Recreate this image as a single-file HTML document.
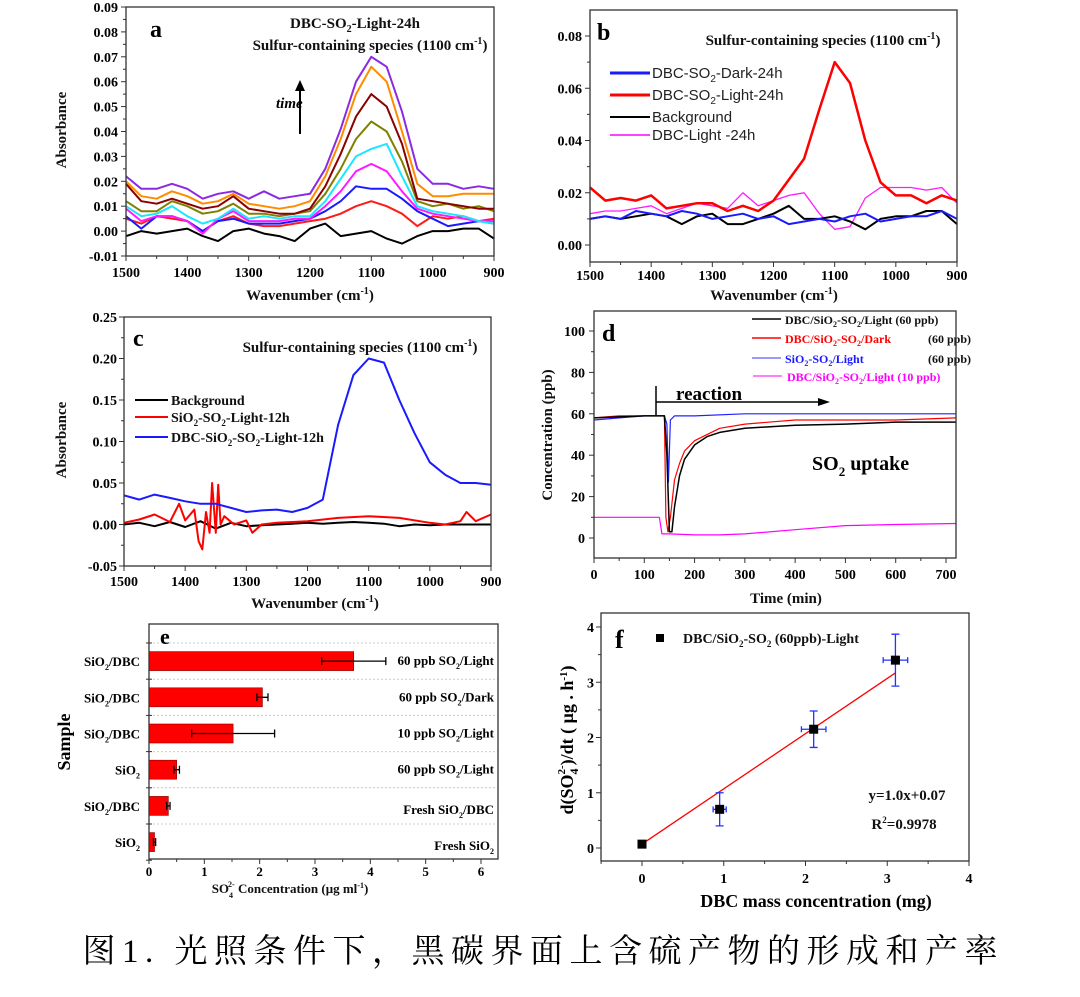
<!DOCTYPE html>
<html><head><meta charset="utf-8">
<style>
html,body{margin:0;padding:0;background:#fff;}
svg{display:block;font-family:"Liberation Serif","Noto Serif CJK SC",serif;}
.t{font-weight:bold;font-size:14px;fill:#111;}
.tt{font-weight:bold;font-size:15px;fill:#111;}
.lg{font-size:15px;fill:#222;font-family:"Liberation Sans",sans-serif;}
</style></head>
<body>
<svg id="fig" width="1080" height="997" viewBox="0 0 1080 997" xmlns="http://www.w3.org/2000/svg">
<rect width="1080" height="997" fill="#fff"/>
<g>
<text x="150" y="37" font-size="24" font-weight="bold">a</text>
<text class="tt" x="355" y="28" text-anchor="middle">DBC-SO<tspan font-size="10" dy="4">2</tspan><tspan dy="-4">-Light-24h</tspan></text>
<text class="tt" x="370" y="50" text-anchor="middle">Sulfur-containing species (1100 cm<tspan font-size="10" dy="-6">-1</tspan><tspan dy="6">)</tspan></text>
<text x="276" y="108" font-size="15" font-style="italic" font-weight="bold">time</text>
<line x1="300" y1="134" x2="300" y2="88" stroke="#000" stroke-width="2"/>
<polygon points="300,80 295,91 305,91" fill="#000"/>
<text class="tt" transform="translate(66,130) rotate(-90)" text-anchor="middle">Absorbance</text>
<text class="tt" x="310" y="300" text-anchor="middle">Wavenumber (cm<tspan font-size="10" dy="-6">-1</tspan><tspan dy="6">)</tspan></text>
</g>
<g>
<text x="597" y="40" font-size="24" font-weight="bold">b</text>
<text class="tt" x="823" y="45" text-anchor="middle">Sulfur-containing species (1100 cm<tspan font-size="10" dy="-6">-1</tspan><tspan dy="6">)</tspan></text>
<line x1="610" y1="73" x2="650" y2="73" stroke="#1a1aff" stroke-width="3"/>
<text class="lg" x="652" y="78">DBC-SO<tspan font-size="10" dy="4">2</tspan><tspan dy="-4">-Dark-24h</tspan></text>
<line x1="610" y1="95" x2="650" y2="95" stroke="#f00" stroke-width="3"/>
<text class="lg" x="652" y="100">DBC-SO<tspan font-size="10" dy="4">2</tspan><tspan dy="-4">-Light-24h</tspan></text>
<line x1="610" y1="117" x2="650" y2="117" stroke="#000" stroke-width="2"/>
<text class="lg" x="652" y="122">Background</text>
<line x1="610" y1="135" x2="650" y2="135" stroke="#f0f" stroke-width="1.5"/>
<text class="lg" x="652" y="140">DBC-Light -24h</text>
<text class="tt" x="774" y="300" text-anchor="middle">Wavenumber (cm<tspan font-size="10" dy="-6">-1</tspan><tspan dy="6">)</tspan></text>
</g>
<g>
<text x="133" y="346" font-size="24" font-weight="bold">c</text>
<text class="tt" x="360" y="352" text-anchor="middle">Sulfur-containing species (1100 cm<tspan font-size="10" dy="-6">-1</tspan><tspan dy="6">)</tspan></text>
<line x1="135" y1="400" x2="168" y2="400" stroke="#000" stroke-width="2"/>
<text class="t" x="171" y="405">Background</text>
<line x1="135" y1="417" x2="168" y2="417" stroke="#f00" stroke-width="2"/>
<text class="t" x="171" y="422">SiO<tspan font-size="9" dy="4">2</tspan><tspan dy="-4">-SO</tspan><tspan font-size="9" dy="4">2</tspan><tspan dy="-4">-Light-12h</tspan></text>
<line x1="135" y1="437" x2="168" y2="437" stroke="#1a1aff" stroke-width="2"/>
<text class="t" x="171" y="442">DBC-SiO<tspan font-size="9" dy="4">2</tspan><tspan dy="-4">-SO</tspan><tspan font-size="9" dy="4">2</tspan><tspan dy="-4">-Light-12h</tspan></text>
<text class="tt" transform="translate(66,440) rotate(-90)" text-anchor="middle">Absorbance</text>
<text class="tt" x="315" y="608" text-anchor="middle">Wavenumber (cm<tspan font-size="10" dy="-6">-1</tspan><tspan dy="6">)</tspan></text>
</g>
<g>
<text x="602" y="341" font-size="24" font-weight="bold">d</text>
<line x1="752" y1="319" x2="781" y2="319" stroke="#000" stroke-width="1.5"/>
<text class="t" x="785" y="324" style="font-size:12px">DBC/SiO<tspan font-size="8" dy="3">2</tspan><tspan dy="-3">-SO</tspan><tspan font-size="8" dy="3">2</tspan><tspan dy="-3">/Light (60 ppb)</tspan></text>
<line x1="752" y1="338" x2="781" y2="338" stroke="#f00" stroke-width="1.5"/>
<text class="t" x="785" y="343" style="font-size:12px;fill:#f00">DBC/SiO<tspan font-size="8" dy="3">2</tspan><tspan dy="-3">-SO</tspan><tspan font-size="8" dy="3">2</tspan><tspan dy="-3">/Dark</tspan></text>
<text class="t" x="971" y="343" text-anchor="end" style="font-size:12px">(60 ppb)</text>
<line x1="752" y1="358" x2="781" y2="358" stroke="#3333ff" stroke-width="1"/>
<text class="t" x="785" y="363" style="font-size:12px;fill:#1a1aff">SiO<tspan font-size="8" dy="3">2</tspan><tspan dy="-3">-SO</tspan><tspan font-size="8" dy="3">2</tspan><tspan dy="-3">/Light</tspan></text>
<text class="t" x="971" y="363" text-anchor="end" style="font-size:12px">(60 ppb)</text>
<line x1="753" y1="376" x2="782" y2="376" stroke="#f0f" stroke-width="1"/>
<text class="t" x="787" y="381" style="font-size:12px;fill:#f0f">DBC/SiO<tspan font-size="8" dy="3">2</tspan><tspan dy="-3">-SO</tspan><tspan font-size="8" dy="3">2</tspan><tspan dy="-3">/Light (10 ppb)</tspan></text>
<text x="676" y="400" font-size="19" font-weight="bold">reaction</text>
<line x1="656" y1="386" x2="656" y2="415" stroke="#000" stroke-width="1.5"/>
<line x1="656" y1="402" x2="822" y2="402" stroke="#000" stroke-width="1.5"/>
<polygon points="830,402 818,398 818,406" fill="#000"/>
<text x="812" y="470" font-size="20" font-weight="bold">SO<tspan font-size="13" dy="6">2</tspan><tspan dy="-6"> uptake</tspan></text>
<text class="tt" transform="translate(552,435) rotate(-90)" text-anchor="middle">Concentration (ppb)</text>
<text class="tt" x="786" y="603" text-anchor="middle">Time (min)</text>
</g>
<g>
<text x="615" y="648" font-size="26" font-weight="bold">f</text>
<rect x="656" y="634" width="8" height="8" fill="#000"/>
<text class="t" x="683" y="643">DBC/SiO<tspan font-size="9" dy="4">2</tspan><tspan dy="-4">-SO</tspan><tspan font-size="9" dy="4">2</tspan><tspan dy="-4"> (60ppb)-Light</tspan></text>
<text class="tt" x="907" y="800" text-anchor="middle">y=1.0x+0.07</text>
<text class="tt" x="904" y="829" text-anchor="middle">R<tspan font-size="9" dy="-6">2</tspan><tspan dy="6">=0.9978</tspan></text>
<text font-size="18" font-weight="bold" transform="translate(573,740) rotate(-90)" text-anchor="middle">d(SO<tspan font-size="12" dy="5">4</tspan><tspan font-size="11" dx="-6" dy="-13">2-</tspan><tspan dy="8">)/dt ( μg . h</tspan><tspan font-size="11" dy="-6">-1</tspan><tspan dy="6">)</tspan></text>
<text x="816" y="907" font-size="18" font-weight="bold" text-anchor="middle">DBC mass concentration (mg)</text>
</g>
<text x="540" y="962" font-size="33" text-anchor="middle" textLength="915" lengthAdjust="spacing" font-family="'Liberation Serif','Noto Serif CJK SC',serif">图1. 光照条件下，黑碳界面上含硫产物的形成和产率</text>
<g id="plots"></g>
<g>
<text x="160" y="644" font-size="22" font-weight="bold">e</text>
<text font-size="18" font-weight="bold" transform="translate(70,742) rotate(-90)" text-anchor="middle">Sample</text>
<text class="t" x="290" y="893" text-anchor="middle" style="font-size:13px">SO<tspan font-size="8" dy="5">4</tspan><tspan font-size="8" dx="-5" dy="-11">2-</tspan><tspan dy="6"> Concentration (μg ml</tspan><tspan font-size="8" dy="-5">-1</tspan><tspan dy="5">)</tspan></text>
</g>
</svg>
<script>
const wnA = [1500,1475,1450,1425,1400,1375,1350,1325,1300,1275,1250,1225,1200,1175,1150,1125,1100,1075,1050,1025,1000,975,950,925,900];
const aBlack  = [-0.002,0.000,-0.001,0.000,0.001,-0.002,-0.004,0.000,0.001,-0.001,-0.002,-0.004,0.001,0.003,-0.002,-0.001,0.000,-0.003,-0.005,-0.002,0.000,0.000,0.001,0.001,-0.003];
const aRed    = [0.005,0.003,0.006,0.005,0.004,0.000,0.004,0.006,0.003,0.002,0.002,0.003,0.004,0.005,0.007,0.010,0.012,0.010,0.007,0.002,0.006,0.005,0.006,0.004,0.005];
const aBlue   = [0.006,0.001,0.006,0.006,0.004,0.000,0.004,0.005,0.003,0.003,0.003,0.004,0.005,0.008,0.012,0.018,0.017,0.017,0.013,0.008,0.005,0.002,0.003,0.004,0.003];
const aMag    = [0.009,0.004,0.006,0.006,0.004,-0.001,0.005,0.008,0.004,0.004,0.004,0.005,0.005,0.010,0.016,0.024,0.027,0.024,0.016,0.009,0.007,0.006,0.005,0.004,0.004];
const aCyan   = [0.010,0.006,0.007,0.010,0.006,0.003,0.005,0.009,0.005,0.006,0.005,0.006,0.006,0.012,0.021,0.030,0.033,0.035,0.022,0.010,0.008,0.007,0.006,0.004,0.003];
const aOlive  = [0.012,0.008,0.008,0.012,0.010,0.007,0.008,0.011,0.007,0.007,0.006,0.007,0.008,0.015,0.025,0.037,0.044,0.040,0.028,0.012,0.010,0.011,0.009,0.010,0.008];
const aBrown  = [0.019,0.012,0.011,0.013,0.011,0.009,0.010,0.014,0.009,0.008,0.007,0.007,0.009,0.018,0.031,0.046,0.055,0.050,0.035,0.013,0.012,0.011,0.010,0.009,0.009];
const aOrange = [0.020,0.014,0.013,0.016,0.014,0.011,0.012,0.015,0.011,0.010,0.009,0.010,0.012,0.022,0.037,0.055,0.066,0.060,0.040,0.019,0.014,0.014,0.015,0.015,0.015];
const aPurple = [0.022,0.017,0.017,0.019,0.017,0.013,0.015,0.016,0.013,0.016,0.013,0.014,0.015,0.025,0.041,0.060,0.070,0.066,0.048,0.025,0.019,0.019,0.017,0.018,0.017];

const bDark   = [0.010,0.011,0.010,0.013,0.012,0.011,0.013,0.012,0.010,0.011,0.012,0.010,0.011,0.008,0.009,0.010,0.009,0.011,0.012,0.009,0.010,0.011,0.011,0.013,0.010];
const bLight  = [0.022,0.017,0.018,0.017,0.019,0.014,0.015,0.016,0.016,0.013,0.015,0.013,0.017,0.025,0.033,0.052,0.070,0.062,0.040,0.024,0.019,0.019,0.016,0.019,0.017];
const bBack   = [0.010,0.011,0.010,0.011,0.012,0.011,0.008,0.011,0.012,0.008,0.008,0.010,0.012,0.015,0.010,0.010,0.011,0.009,0.006,0.010,0.011,0.011,0.013,0.013,0.008];
const bDbcL   = [0.012,0.013,0.013,0.014,0.015,0.012,0.014,0.016,0.015,0.014,0.020,0.015,0.017,0.019,0.020,0.012,0.006,0.007,0.018,0.022,0.022,0.022,0.021,0.022,0.016];

const cBlue   = [0.035,0.030,0.036,0.032,0.028,0.025,0.025,0.020,0.015,0.017,0.018,0.015,0.020,0.030,0.120,0.180,0.200,0.195,0.150,0.110,0.075,0.060,0.050,0.050,0.048];
const cBlack  = [0.000,0.002,-0.002,0.003,-0.003,0.004,-0.005,0.002,-0.002,-0.001,0.000,0.001,0.002,0.001,0.002,0.003,0.002,0.001,-0.002,0.000,-0.001,0.000,0.000,0.000,0.000];
const wnCRed  = [1500,1475,1450,1425,1410,1400,1385,1378,1372,1366,1360,1356,1350,1346,1342,1336,1320,1300,1290,1275,1250,1200,1150,1100,1050,1000,975,950,940,925,900];
const cRed    = [0.002,0.006,0.012,0.003,0.025,0.005,0.018,-0.020,-0.030,0.015,-0.010,0.050,-0.010,0.048,0.000,0.010,0.000,0.005,-0.010,0.000,0.002,0.004,0.008,0.010,0.008,0.002,0.000,0.004,0.015,0.004,0.012];

const tBlack = [0,50,100,140,145,150,155,160,170,180,200,225,250,300,400,500,600,720];
const dBlack = [58,58.5,59,59,40,3,3,15,30,38,45,49,51,53,54.5,55,56,56];
const tRed   = [0,50,100,140,143,147,152,160,170,180,200,250,300,400,500,600,720];
const dRed   = [58,59,59,59,10,3,10,28,36,42,47,53,55,57,57,57,58];
const tBlue  = [0,50,100,140,145,148,152,160,200,300,400,500,600,720];
const dBlue  = [57,58,59,59,55,27,57,59,59,60,60,60,60,60];
const tMag   = [0,50,100,130,135,150,200,250,300,400,500,600,720];
const dMag   = [10,10,10,10,2,2,1.5,1.5,2,4,6,6.5,7];

const eLeft  = ["SiO2/DBC","SiO2/DBC","SiO2/DBC","SiO2","SiO2/DBC","SiO2"];
const eRight = ["60 ppb SO2/Light","60 ppb SO2/Dark","10 ppb SO2/Light","60 ppb SO2/Light","Fresh SiO2/DBC","Fresh SiO2"];
const eVals  = [3.7,2.05,1.52,0.5,0.35,0.1];
const eErr   = [0.58,0.1,0.75,0.05,0.03,0.02];

const fX  = [0,0.95,2.1,3.1];
const fY  = [0.07,0.7,2.15,3.4];
const fXe = [0,0.08,0.15,0.15];
const fYe = [0,0.3,0.33,0.47];
const fSlope = 1.0, fIntercept = 0.07;

const NS="http://www.w3.org/2000/svg";
const root=document.getElementById('plots');
function el(tag,attrs,parent){const e=document.createElementNS(NS,tag);for(const k in attrs)e.setAttribute(k,attrs[k]);(parent||root).appendChild(e);return e;}
function lin(d0,d1,r0,r1){return v=>r0+(v-d0)*(r1-r0)/(d1-d0);}
function frame(x0,y0,x1,y1,name){const r=el('rect',{x:x0,y:y0,width:x1-x0,height:y1-y0,fill:'none',stroke:'#333','stroke-width':1.3});

}
function xTicks(sx,vals,yb,fmt,minor,ly,fs){vals.forEach(v=>{const x=sx(v);el('line',{x1:x,y1:yb,x2:x,y2:yb+5,stroke:'#333'});
const t=el('text',{x:x,y:ly,'text-anchor':'middle','font-weight':'bold','font-size':fs||14});t.textContent=fmt(v);

});
(minor||[]).forEach(v=>{const x=sx(v);el('line',{x1:x,y1:yb,x2:x,y2:yb+3,stroke:'#333'});});}
function yTicks(sy,vals,xl,fmt,minor,lx,fs){vals.forEach(v=>{const y=sy(v);el('line',{x1:xl-5,y1:y,x2:xl,y2:y,stroke:'#333'});
const t=el('text',{x:lx,y:y+5,'text-anchor':'end','font-weight':'bold','font-size':fs||14});t.textContent=fmt(v);

});
(minor||[]).forEach(v=>{const y=sy(v);el('line',{x1:xl-3,y1:y,x2:xl,y2:y,stroke:'#333'});});}
function line(xs,ys,sx,sy,color,w,name){const d=xs.map((x,i)=>(i?'L':'M')+sx(x).toFixed(1)+','+sy(ys[i]).toFixed(1)).join('');
const p=el('path',{d:d,fill:'none',stroke:color,'stroke-width':w,'stroke-linejoin':'round'});

}
function range(a,b,s){const r=[];for(let v=a;v<=b+1e-9;v+=s)r.push(+v.toFixed(4));return r;}

{const sx=lin(1500,900,126,494), sy=lin(-0.01,0.09,256,7);
const series=[[aBlack,'#000'],[aRed,'#ff1a1a'],[aBlue,'#1a1aff'],[aMag,'#ff1aff'],[aCyan,'#1ae6ff'],[aOlive,'#808000'],[aBrown,'#8b0000'],[aOrange,'#ff8c00'],[aPurple,'#8a2be2']];
series.forEach((s,i)=>line(wnA,s[0],sx,sy,s[1],2,'panel-a-series-'+i));
frame(126,7,494,256,'panel-a-frame');
xTicks(sx,range(900,1500,100),256,v=>v,range(950,1450,100),277);
yTicks(sy,range(-0.01,0.09,0.01),126,v=>v.toFixed(2),range(-0.005,0.085,0.01),118);}
{const sx=lin(1500,900,590,957), sy=lin(0,0.08,245,36);
line(wnA,bDbcL,sx,sy,'#ff1aff',1.3,'panel-b-dbc-light');
line(wnA,bBack,sx,sy,'#000',2,'panel-b-background');
line(wnA,bDark,sx,sy,'#1a1aff',2,'panel-b-dark');
line(wnA,bLight,sx,sy,'#ff0000',2.5,'panel-b-light');
frame(590,10,957,262,'panel-b-frame');
xTicks(sx,range(900,1500,100),262,v=>v,range(950,1450,100),280);
yTicks(sy,range(0,0.08,0.02),590,v=>v.toFixed(2),range(0.01,0.07,0.02),582);}
{const sx=lin(1500,900,124,491), sy=lin(-0.05,0.25,566,317);
line(wnA,cBlack,sx,sy,'#000',2,'panel-c-background');
line(wnCRed,cRed,sx,sy,'#ff0000',2,'panel-c-sio2');
line(wnA,cBlue,sx,sy,'#1a1aff',2,'panel-c-dbc');
frame(124,317,491,566,'panel-c-frame');
xTicks(sx,range(900,1500,100),566,v=>v,range(950,1450,100),586);
yTicks(sy,range(-0.05,0.25,0.05),124,v=>v.toFixed(2),range(-0.025,0.225,0.05),117);}
{const sx=lin(0,700,594,946), sy=lin(0,100,538,331);
line(tMag,dMag,sx,sy,'#ff00ff',1.2,'panel-d-light10');
line(tBlue,dBlue,sx,sy,'#2222ff',1.2,'panel-d-sio2');
line(tRed,dRed,sx,sy,'#ff0000',1.2,'panel-d-dark60');
line(tBlack,dBlack,sx,sy,'#000',1.5,'panel-d-light60');
frame(594,311,956,558,'panel-d-frame');
xTicks(sx,range(0,700,100),558,v=>v,range(50,650,100),579);
yTicks(sy,range(0,100,20),594,v=>v,range(10,90,20),585);}
{const sx=lin(0,6,149,481); const start=643,band=36.2;
eVals.forEach((v,i)=>{const cy=start+band*(i+0.5);
const b=el('rect',{x:sx(0),y:cy-9.5,width:sx(v)-sx(0),height:19,fill:'#ff0000',stroke:'#800','stroke-width':0.6});


const ex0=sx(v-eErr[i]),ex1=sx(v+eErr[i]);
el('path',{d:`M${ex0},${cy}H${ex1}M${ex0},${cy-4}V${cy+4}M${ex1},${cy-4}V${cy+4}`,stroke:'#000','stroke-width':1.3,fill:'none'});
el('line',{x1:149,y1:start+band*i,x2:498,y2:start+band*i,stroke:'#ccc','stroke-dasharray':'2,2'});
el('line',{x1:146,y1:start+band*i,x2:152,y2:start+band*i,stroke:'#333'});
const parts=eLeft[i].split('2');
const tl=el('text',{x:140,y:cy+5,'text-anchor':'end','font-weight':'bold','font-size':13});
tl.innerHTML=parts.length>1?`SiO<tspan font-size="8" dy="4">2</tspan><tspan dy="-4">${parts[1]}</tspan>`:eLeft[i];


const rp=eRight[i].split('2');
const tr=el('text',{x:494,y:cy+(i>=4?8:4),'text-anchor':'end','font-weight':'bold','font-size':13});
tr.innerHTML=rp.length>1?`${rp[0]}<tspan font-size="8" dy="4">2</tspan><tspan dy="-4">${rp[1]}</tspan>`:eRight[i];

});
el('line',{x1:146,y1:start+band*6,x2:152,y2:start+band*6,stroke:'#333'});
frame(149,624,498,859,'panel-e-frame');
xTicks(sx,range(0,6,1),859,v=>v,range(0.5,5.5,1),876,13);}
{const sx=lin(0,4,642,969), sy=lin(0,4,848,627);
line([0,fX[fX.length-1]],[fIntercept,fSlope*fX[fX.length-1]+fIntercept],sx,sy,'#ff0000',1.3,'fit-line');
fX.forEach((x,i)=>{const px=sx(x),py=sy(fY[i]);
if(fXe[i]||fYe[i]){const a=sx(x-fXe[i]),b=sx(x+fXe[i]),c=sy(fY[i]-fYe[i]),d=sy(fY[i]+fYe[i]);
el('path',{d:`M${a},${py}H${b}M${a},${py-3}V${py+3}M${b},${py-3}V${py+3}M${px},${c}V${d}M${px-4},${c}H${px+4}M${px-4},${d}H${px+4}`,stroke:'#2233ff','stroke-width':1.3,fill:'none'});}
const m=el('rect',{x:px-4.5,y:py-4.5,width:9,height:9,fill:'#000'});

});
frame(601,613,969,861,'panel-f-frame');
xTicks(sx,range(0,4,1),861,v=>v,range(-0.5,3.5,1),883,14);
yTicks(sy,range(0,4,1),601,v=>v,range(0.5,3.5,1),594,14);}
</script>
</body></html>
